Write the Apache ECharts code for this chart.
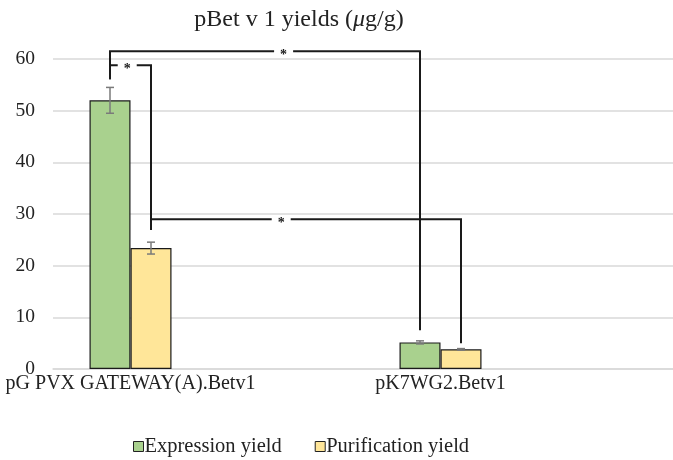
<!DOCTYPE html>
<html><head><meta charset="utf-8">
<script src="https://cdn.jsdelivr.net/npm/echarts@6/dist/echarts.min.js"></script>
<style>html,body{margin:0;padding:0;background:#fff}#c{width:673px;height:460px}</style>
</head><body><div id="c"></div>
<script>
const categories = ['pG PVX GATEWAY(A).Betv1', '', 'pK7WG2.Betv1', ''];
const seriesNames = ['Expression yield', 'Purification yield'];
const expression = [52.0, null, 5.15, null];
const expressionErr = [2.5, null, 0.3, null];
const purification = [23.4, null, 3.8, null];
const purificationErr = [1.15, null, 0.15, null];
const yTicks = [0, 10, 20, 30, 40, 50, 60];
// significance brackets: [catA, seriesA, endValueA, catB, seriesB, endValueB, height, starFraction]
const brackets = [
  [0, 0, 56.1, 2, 0, 7.5, 61.5, 0.56],
  [0, 0, 56.1, 0, 1, 26.9, 58.8, 0.42],
  [0, 1, 26.9, 2, 1, 5.0, 29.0, 0.42]
];

const BAR_W = 41;
const FONT = '"Liberation Serif", "Times New Roman", serif';
const chart = echarts.init(document.getElementById('c'), null, {renderer: 'canvas'});

function errSeries(vals, errs, k) {
  const data = [];
  vals.forEach((v, i) => { if (v != null) data.push([i, v, errs[i]]); });
  return {
    type: 'custom', coordinateSystem: 'cartesian2d', z: 5, silent: true,
    encode: {x: 0, y: 1},
    renderItem: function (params, api) {
      const off = (k - 0.5) * BAR_W;
      const top = api.coord([api.value(0), api.value(1) + api.value(2)]);
      const bot = api.coord([api.value(0), api.value(1) - api.value(2)]);
      const x = top[0] + off, c = 4;
      const st = {stroke: '#7a7a7a', lineWidth: 1.5};
      return {type: 'group', children: [
        {type: 'line', shape: {x1: x, y1: top[1], x2: x, y2: bot[1]}, style: st},
        {type: 'line', shape: {x1: x - c, y1: top[1], x2: x + c, y2: top[1]}, style: st},
        {type: 'line', shape: {x1: x - c, y1: bot[1], x2: x + c, y2: bot[1]}, style: st}
      ]};
    },
    data: data
  };
}

const bracketSeries = {
  type: 'custom', coordinateSystem: 'cartesian2d', z: 6, silent: true, clip: false,
  encode: {x: 0, y: 6},
  renderItem: function (params, api) {
    const pa = api.coord([api.value(0), api.value(6)]);
    const pb = api.coord([api.value(3), api.value(6)]);
    const ea = api.coord([api.value(0), api.value(2)]);
    const eb = api.coord([api.value(3), api.value(5)]);
    const xa = pa[0] + (api.value(1) - 0.5) * BAR_W;
    const xb = pb[0] + (api.value(4) - 0.5) * BAR_W;
    const yh = pa[1];
    const xs = xa + api.value(7) * (xb - xa);
    const g = 9.5;
    const st = {stroke: '#1a1a1a', lineWidth: 2, fill: null};
    return {type: 'group', children: [
      {type: 'polyline', shape: {points: [[xa, ea[1]], [xa, yh], [xs - g, yh]]}, style: st},
      {type: 'polyline', shape: {points: [[xs + g, yh], [xb, yh], [xb, eb[1]]]}, style: st},
      {type: 'text', x: xs, y: yh + 4, style: {text: '*', fill: '#1a1a1a', font: 'bold 14px ' + FONT, align: 'center', verticalAlign: 'middle'}}
    ]};
  },
  data: brackets
};

chart.setOption({
  animation: false,
  backgroundColor: '#fff',
  textStyle: {fontFamily: FONT},
  title: {
    text: 'pBet v 1 yields ({i|μ}g/g)', left: 294, top: 3, textAlign: 'center',
    textStyle: {fontFamily: FONT, fontSize: 24, fontWeight: 'normal', color: '#222',
      rich: {i: {fontFamily: FONT, fontSize: 24, fontStyle: 'italic', color: '#222'}}}
  },
  legend: {
    data: seriesNames, left: 128, top: 431, icon: 'rect', itemWidth: 10, itemHeight: 10,
    itemGap: 33,
    textStyle: {fontFamily: FONT, fontSize: 20.5, color: '#222', padding: [0, 0, 0, -4]},
    itemStyle: {borderColor: '#222', borderWidth: 1}
  },
  grid: {left: 53, right: 0, top: 59, bottom: 91, containLabel: false},
  xAxis: {
    type: 'category', data: categories,
    axisLine: {show: true, lineStyle: {color: '#d9d9d9', width: 1.5}},
    axisTick: {show: false},
    axisLabel: {interval: 0, fontFamily: FONT, fontSize: 20, color: '#222', margin: 5}
  },
  yAxis: {
    type: 'value', min: yTicks[0], max: yTicks[yTicks.length - 1], interval: 10,
    axisLine: {show: false}, axisTick: {show: false},
    axisLabel: {fontFamily: FONT, fontSize: 19.5, color: '#222', margin: 18},
    splitLine: {lineStyle: {color: '#d9d9d9', width: 1.5}}
  },
  series: [
    {name: seriesNames[0], type: 'bar', data: expression, barWidth: BAR_W, barGap: '0%',
      itemStyle: {color: '#A9D18E', borderColor: '#1a1a1a', borderWidth: 1.2}},
    {name: seriesNames[1], type: 'bar', data: purification, barWidth: BAR_W, barGap: '0%',
      itemStyle: {color: '#FFE699', borderColor: '#1a1a1a', borderWidth: 1.2}},
    errSeries(expression, expressionErr, 0),
    errSeries(purification, purificationErr, 1),
    bracketSeries
  ]
});
</script></body></html>
